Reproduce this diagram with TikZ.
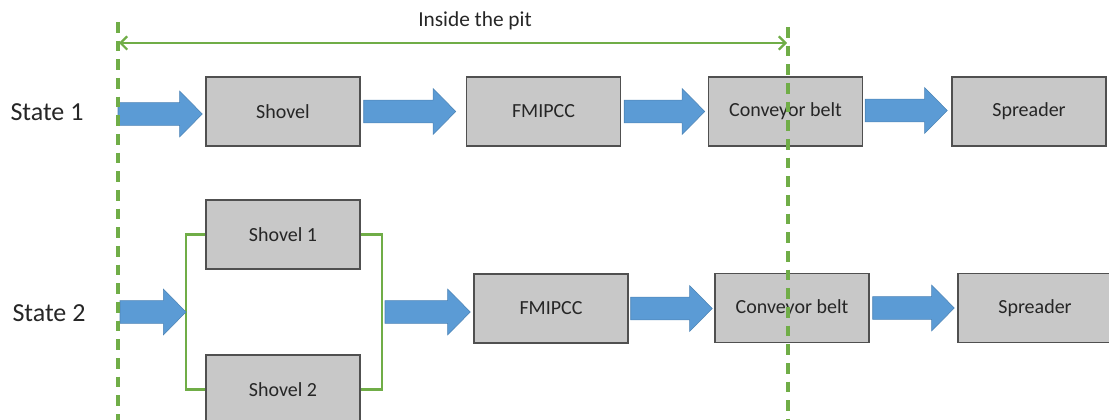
\documentclass[tikz,border=0pt]{standalone}
\usepackage{fontspec}
\setmainfont{Carlito}
\usetikzlibrary{calc,arrows.meta}

\definecolor{boxgray}{HTML}{C8C8C8}
\definecolor{boxline}{HTML}{505050}
\definecolor{flowblue}{HTML}{5B9BD5}
\definecolor{pitgreen}{HTML}{70AD47}

\tikzset{
  stage/.style={draw=boxline, line width=1.1pt, fill=boxgray, rectangle,
    minimum width=115.5pt, minimum height=51.75pt, inner sep=0pt,
    font=\fontsize{15}{18}\selectfont, text=black!85},
  statelabel/.style={font=\fontsize{19.5}{23}\selectfont, text=black!85, inner sep=0pt},
  blockarrow/.style={fill=flowblue, draw=flowblue!85!black, line width=0.4pt},
  pitline/.style={draw=pitgreen, line width=2.6pt, dash pattern=on 8pt off 6pt},
  branch/.style={draw=pitgreen, line width=1.6pt},
  span/.style={draw=pitgreen, line width=1.6pt, {Straight Barb[length=5pt,width=10pt,line width=1.6pt]}-{Straight Barb[length=5pt,width=10pt,line width=1.6pt]}}
}

% block arrow from point #1 to the tip at point #2 (same height)
\newcommand\flowarrow[2]{%
  \path[blockarrow] let \p1=#1, \p2=#2 in
    (\x1,\y1+8.6pt) -- (\x2-17pt,\y1+8.6pt) -- (\x2-17pt,\y1+17.25pt) --
    (\x2,\y1) -- (\x2-17pt,\y1-17.25pt) -- (\x2-17pt,\y1-8.6pt) --
    (\x1,\y1-8.6pt) -- cycle;}

\begin{document}
\begin{tikzpicture}[x=0.75pt,y=-0.75pt]
\useasboundingbox (0,0) rectangle (1109,420);
\clip (0,0) rectangle (1109,420);

% pit boundaries
\coordinate (pitLtop) at (118,22);
\coordinate (pitLbot) at (118,422);
\coordinate (pitRtop) at (788,27);
\coordinate (pitRbot) at (788,422);
\coordinate (spanL) at (119,43);
\coordinate (spanR) at (787,43);

% state 1
\node[statelabel] (s1) at (47,112) {State 1};
\node[stage] (sh)  at (283,111.5)   {Shovel};
\node[stage] (fm1) at (543.5,111.5) {FMIPCC};
\node[stage] (cb1) at (785.5,111.5) {Conveyor belt};
\node[stage] (sp1) at (1029,111.5)  {Spreader};
\coordinate (in1) at (118,114);

\flowarrow{(in1)}{($(sh.west)+(-3,2.5)$)}
\flowarrow{($(sh.east)+(3,0)$)}{($(fm1.west)+(-10,0)$)}
\flowarrow{($(fm1.east)+(3,0)$)}{($(cb1.west)+(-3,0)$)}
\flowarrow{($(cb1.east)+(2,-1)$)}{($(sp1.west)+(-4,-1)$)}

% state 2
\node[statelabel] (s2) at (49,313) {State 2};
\node[stage] (sh1) at (283,234.5)  {Shovel 1};
\node[stage] (sh2) at (283,389.5)  {Shovel 2};
\node[stage] (fm2) at (551,308.5)  {FMIPCC};
\node[stage] (cb2) at (792,308)    {Conveyor belt};
\node[stage] (sp2) at (1035,308)   {Spreader};

\coordinate (jL) at (186,312);
\coordinate (jR) at (382,312);
\draw[branch] (sh1.west) -| (jL) |- (sh2.west);
\draw[branch] (sh1.east) -| (jR) |- (sh2.east);

\coordinate (in2) at (120,312);
\flowarrow{(in2)}{(jL)}
\flowarrow{($(jR)+(3,0)$)}{($(fm2.west)+(-3,0)$)}
\flowarrow{($(fm2.east)+(2,0)$)}{($(cb2.west)+(-2,0)$)}
\flowarrow{($(cb2.east)+(3,0)$)}{($(sp2.west)+(-3,0)$)}

% extent of the pit
\draw[pitline] (pitLtop) -- (pitLbot);
\draw[pitline] (pitRtop) -- (pitRbot);
\draw[span] (spanL) -- (spanR);
\node[font=\fontsize{16}{19}\selectfont, text=black!85, inner sep=0pt] (pit) at (475,21) {Inside the pit};
\end{tikzpicture}
\end{document}
